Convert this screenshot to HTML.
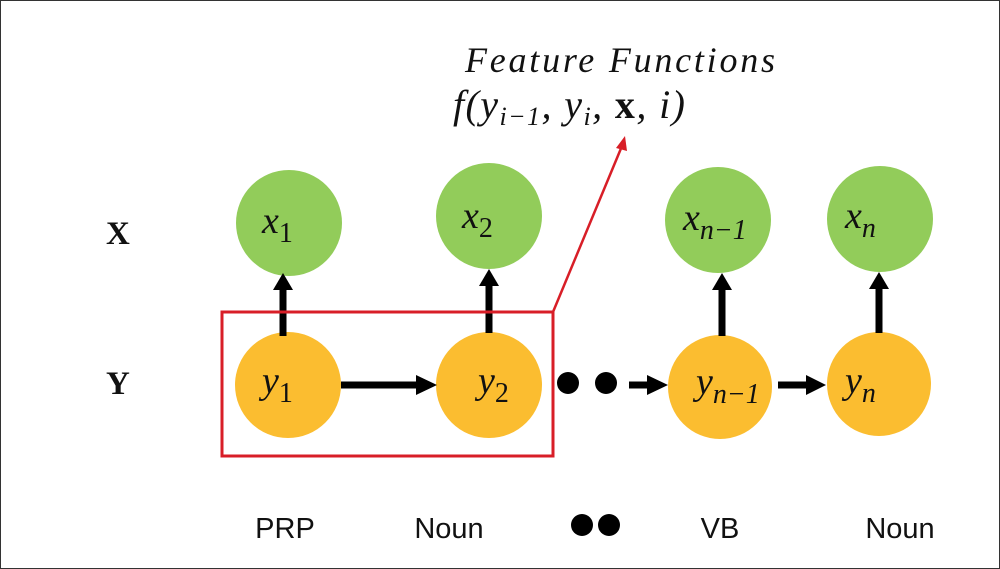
<!DOCTYPE html>
<html><head><meta charset="utf-8"><style>
html,body{margin:0;padding:0;background:#fff}
svg{display:block}
.m{font-family:"Liberation Serif",serif;font-style:italic;fill:#111}
.lbl{font-family:"Liberation Sans",sans-serif;font-size:29px;fill:#111}
</style></head><body>
<svg width="1000" height="569" viewBox="0 0 1000 569">
<rect x="0.5" y="0.5" width="999" height="568" fill="#fff" stroke="#333" stroke-width="1"/>
<text x="465" y="72" class="m" font-size="36" textLength="310">Feature Functions</text>
<text x="453" y="118" class="m" font-size="40" textLength="232">f(y<tspan font-size="26" dy="7">i−1</tspan><tspan dy="-7">, y</tspan><tspan font-size="26" dy="7">i</tspan><tspan dy="-7">, </tspan><tspan font-style="normal" font-weight="bold">x</tspan>, i)</text>
<line x1="553" y1="312" x2="622" y2="146" stroke="#d81e27" stroke-width="2.5"/>
<polygon points="625,136 616,148 627,151" fill="#d81e27"/>
<text x="106" y="244" font-family="Liberation Serif,serif" font-weight="bold" font-size="33" fill="#111">X</text>
<text x="106" y="394" font-family="Liberation Serif,serif" font-weight="bold" font-size="33" fill="#111">Y</text>
<g fill="#92cc5a">
<circle cx="289" cy="223" r="53"/>
<circle cx="489" cy="216" r="53"/>
<circle cx="718" cy="220" r="53"/>
<circle cx="880" cy="219" r="53"/>
</g>
<g fill="#fbbd30">
<circle cx="288" cy="385" r="53"/>
<circle cx="489" cy="385" r="53"/>
<circle cx="720" cy="387" r="52"/>
<circle cx="879" cy="384" r="52"/>
</g>
<g fill="#000">
<rect x="279.5" y="286" width="7" height="50"/>
<polygon points="283,273 273,290 293,290"/>
<rect x="485.5" y="282" width="7" height="51"/>
<polygon points="489,269 479,286 499,286"/>
<rect x="718.5" y="286" width="7" height="50"/>
<polygon points="722,273 712,290 732,290"/>
<rect x="875.5" y="285" width="7" height="48"/>
<polygon points="879,272 869,289 889,289"/>
<rect x="341" y="381.5" width="78" height="7"/>
<polygon points="437,385 416,375 416,395"/>
<rect x="629" y="381.5" width="20" height="7"/>
<polygon points="668,385 647,375 647,395"/>
<rect x="778" y="381.5" width="30" height="7"/>
<polygon points="826,385 806,375 806,395"/>
</g>
<rect x="222" y="312" width="331" height="144" fill="none" stroke="#d81e27" stroke-width="3"/>
<g fill="#000">
<circle cx="568" cy="383" r="11"/>
<circle cx="606" cy="383" r="11"/>
<circle cx="582" cy="525" r="11"/>
<circle cx="609" cy="525" r="11"/>
</g>
<g class="m" font-size="38">
<text x="262" y="233">x<tspan font-size="28" font-style="normal" dy="9">1</tspan></text>
<text x="462" y="228">x<tspan font-size="28" font-style="normal" dy="9">2</tspan></text>
<text x="683" y="230">x<tspan font-size="28" dy="9">n−1</tspan></text>
<text x="845" y="228">x<tspan font-size="28" dy="9">n</tspan></text>
<text x="262" y="393">y<tspan font-size="28" font-style="normal" dy="9">1</tspan></text>
<text x="478" y="393">y<tspan font-size="28" font-style="normal" dy="9">2</tspan></text>
<text x="696" y="394">y<tspan font-size="28" dy="9">n−1</tspan></text>
<text x="845" y="393">y<tspan font-size="28" dy="9">n</tspan></text>
</g>
<text x="285" y="538" class="lbl" text-anchor="middle">PRP</text>
<text x="449" y="538" class="lbl" text-anchor="middle">Noun</text>
<text x="720" y="538" class="lbl" text-anchor="middle">VB</text>
<text x="900" y="538" class="lbl" text-anchor="middle">Noun</text>
</svg>
</body></html>
